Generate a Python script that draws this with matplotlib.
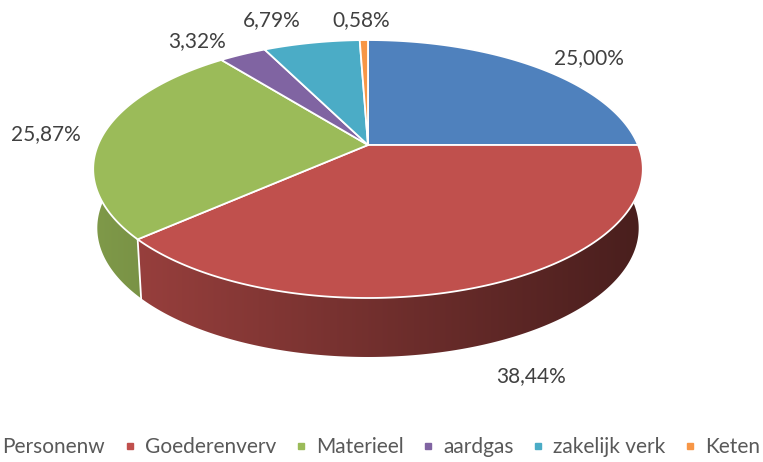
import numpy as np
import matplotlib.pyplot as plt
from matplotlib.patches import Polygon
from matplotlib.lines import Line2D
import matplotlib.colors as mcolors

plt.rcParams["font.family"] = ["Lato", "DejaVu Sans"]

# ----------------------------
# Data
# ----------------------------
categories = ["Personenw", "Goederenverv", "Materieel", "aardgas", "zakelijk verk", "Keten"]
shares = [25.00, 38.44, 25.87, 3.32, 6.79, 0.58]
value_labels = ["25,00%", "38,44%", "25,87%", "3,32%", "6,79%", "0,58%"]
colors = ["#4f81bd", "#c0504d", "#9bbb59", "#8064a2", "#4bacc6", "#f79646"]

# label centres in pixel coords (x, y from top)
label_xy = [(589, 58), (531, 376), (46, 134), (197, 41), (272, 20), (361, 20)]

# ----------------------------
# Geometry of the 3D pie (pixels)
# ----------------------------
CX, CY = 368, 145
RX, RY = 270, 124.5
PERSP = 5.37   # viewing distance in radii
DEPTH = 59     # thickness of the disc
SHRINK = 0.985  # bottom rim looks a bit narrower


def project(t):
    '''Project points of the unit circle (angle t, radians) onto the screen.'''
    X, Y = np.cos(t), np.sin(t)
    s = PERSP / (PERSP + Y)
    return CX + RX * X * s, CY - RY * Y * s


def shade(x):
    '''Brightness factor of the side wall, light from the left.'''
    return np.clip(0.82 - (x - 95) / (640 - 95) * (0.82 - 0.38), 0.3, 1.0)


fig = plt.figure(figsize=(7.63, 4.62), dpi=100)
ax = fig.add_axes([0, 0, 1, 1])

# slice angles: start at 12 o'clock, clockwise
bounds = np.pi / 2 - 2 * np.pi * np.concatenate([[0], np.cumsum(shares)]) / 100.0

# side walls, one gradient per slice clipped to the wall outline
gx = np.linspace(0, 763, 400)
for i, col in enumerate(colors):
    t = np.linspace(bounds[i], bounds[i + 1], 300)
    xs, ys = project(t)
    bx = CX + (xs - CX) * SHRINK
    by = ys + DEPTH
    pts = list(zip(xs, ys)) + list(zip(bx[::-1], by[::-1]))
    wall = Polygon(pts, closed=True, facecolor="none", edgecolor="none")
    ax.add_patch(wall)
    base = np.array(mcolors.to_rgb(col))
    grad = base[None, None, :] * shade(gx)[None, :, None]
    im = ax.imshow(grad, extent=(0, 763, 462, 0), aspect="auto",
                   interpolation="bilinear", zorder=1)
    im.set_clip_path(wall)

# white seams on the side wall
for b in bounds[1:-1]:
    if np.sin(b) < 0:
        px, py = project(b)
        ax.plot([px, CX + (px - CX) * SHRINK], [py, py + DEPTH],
                color="white", lw=1.3, zorder=2)

# top faces
for i, col in enumerate(colors):
    t = np.linspace(bounds[i], bounds[i + 1], 200)
    xs, ys = project(t)
    pts = [(CX, CY)] + list(zip(xs, ys))
    ax.add_patch(Polygon(pts, closed=True, facecolor=col, edgecolor="white",
                         lw=1.3, joinstyle="round", zorder=3))

# data labels
for (lx, ly), txt in zip(label_xy, value_labels):
    ax.text(lx, ly, txt, ha="center", va="center", fontsize=15,
            color="#404040", zorder=5)

ax.set_xlim(0, 763)
ax.set_ylim(462, 0)
ax.axis("off")

# legend
handles = [Line2D([], [], marker="s", linestyle="", color=c, markersize=5)
           for c in colors]
fig.legend(handles, categories, loc="center", bbox_to_anchor=(0.486, 0.032),
           ncol=6, frameon=False, fontsize=15, labelcolor="#595959",
           handlelength=0.6, handletextpad=0.4, columnspacing=0.9,
           borderpad=0, borderaxespad=0)

fig.savefig("out.png", dpi=100)
